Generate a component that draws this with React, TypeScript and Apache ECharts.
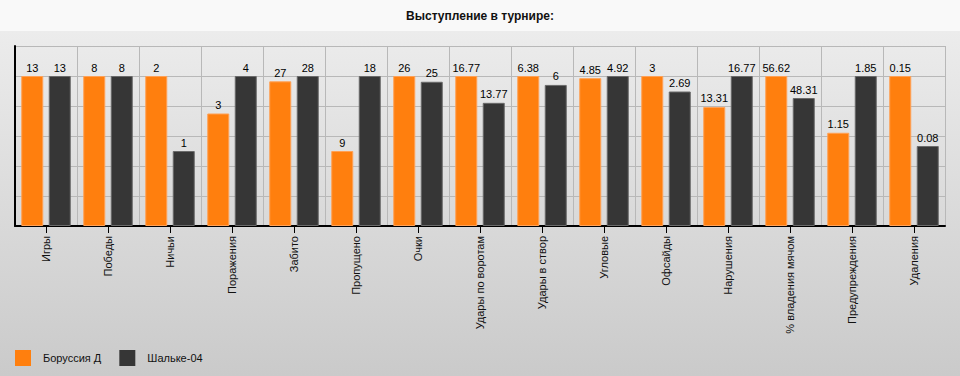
import React, { useEffect, useRef } from "react";
import * as echarts from "echarts";

const categories = [
  "Игры",
  "Победы",
  "Ничьи",
  "Поражения",
  "Забито",
  "Пропущено",
  "Очки",
  "Удары по воротам",
  "Удары в створ",
  "Угловые",
  "Офсайды",
  "Нарушения",
  "% владения мячом",
  "Предупреждения",
  "Удаления",
];
const borussia = [13, 8, 2, 3, 27, 9, 26, 16.77, 6.38, 4.85, 3, 13.31, 56.62, 1.15, 0.15];
const schalke = [13, 8, 1, 4, 28, 18, 25, 13.77, 6, 4.92, 2.69, 16.77, 48.31, 1.85, 0.08];
const seriesNames = ["Боруссия Д", "Шальке-04"];
const title = "Выступление в турнире:";

const FONT = "'Liberation Sans', Arial, sans-serif";

export default function App() {
  const ref = useRef<HTMLDivElement>(null);
  useEffect(() => {
    if (!ref.current) return;
    const chart = echarts.init(ref.current, undefined, { renderer: "svg" });
    const mk = (arr: number[], other: number[]) =>
      arr.map((v, i) => ({ value: (v / Math.max(v, other[i])) * 100, raw: v }));
    const label = {
      show: true,
      position: "top" as const,
      distance: 3,
      color: "#000",
      fontSize: 11,
      fontFamily: FONT,
      formatter: (p: any) => String(p.data.raw),
    };
    chart.setOption({
      animation: false,
      title: {
        text: title,
        left: "center",
        top: 5,
        textStyle: { fontSize: 12, fontWeight: "bold", color: "#111", fontFamily: FONT },
      },
      legend: {
        left: 15,
        top: 350,
        padding: 0,
        itemWidth: 16,
        itemHeight: 16,
        itemGap: 18,
        icon: "rect",
        itemStyle: { borderWidth: 0 },
        textStyle: { fontSize: 11, color: "#111", fontFamily: FONT, padding: [0, 0, 0, 7] },
        data: seriesNames,
      },
      grid: { left: 15, right: 15, top: 46, bottom: 150 },
      xAxis: {
        type: "category",
        data: categories,
        axisLine: { lineStyle: { color: "#000", width: 2 } },
        axisTick: { show: true, alignWithLabel: true, length: 7, lineStyle: { color: "#000" } },
        axisLabel: {
          rotate: 90,
          interval: 0,
          margin: 10,
          fontSize: 11,
          color: "#111",
          fontFamily: FONT,
        },
        splitLine: { show: true, lineStyle: { color: "#b8b8b8", width: 1 } },
      },
      yAxis: {
        type: "value",
        min: 0,
        max: 120,
        interval: 20,
        axisLine: { show: true, lineStyle: { color: "#000", width: 2 } },
        axisTick: { show: false },
        axisLabel: { show: false },
        splitLine: { show: true, lineStyle: { color: "#b8b8b8", width: 1 } },
      },
      series: [
        {
          name: seriesNames[0],
          type: "bar",
          barWidth: 22,
          barGap: "25%",
          data: mk(borussia, schalke),
          itemStyle: { color: "#ff7f0e", borderColor: "#ffa055", borderWidth: 1 },
          label,
        },
        {
          name: seriesNames[1],
          type: "bar",
          barWidth: 22,
          barGap: "25%",
          data: mk(schalke, borussia),
          itemStyle: { color: "#363636", borderColor: "#6a6a6a", borderWidth: 1 },
          label,
        },
      ],
    });
    return () => chart.dispose();
  }, []);
  return (
    <div
      style={{
        position: "absolute",
        left: 0,
        top: 0,
        width: 960,
        height: 376,
        background:
          "linear-gradient(to bottom, #f9f9f9 0px, #f9f9f9 31px, #ececec 31px, #cacaca 376px)",
      }}
    >
      <div ref={ref} style={{ width: 960, height: 376 }} />
    </div>
  );
}
